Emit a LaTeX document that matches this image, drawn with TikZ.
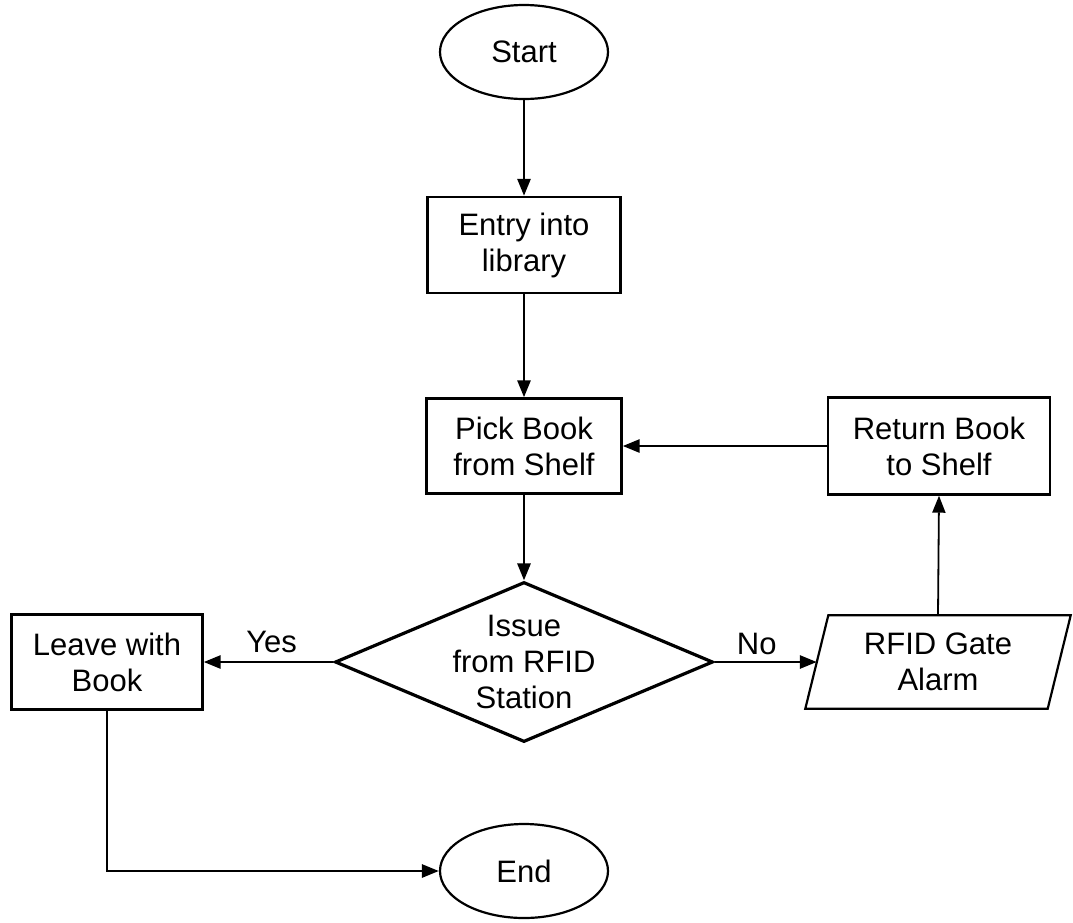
\documentclass[tikz,border=0pt]{standalone}
\usepackage{fontspec}
\setmainfont{Liberation Sans}
\usetikzlibrary{shapes.geometric,arrows.meta}
\begin{document}
\begin{tikzpicture}[x=1pt,y=-1pt,
  every node/.style={font=\fontsize{31}{36}\selectfont, align=center, inner sep=0pt},
  procbox/.style={draw, line width=2.4pt, rectangle},
  term/.style={draw, line width=2.2pt, ellipse, minimum width=168pt, minimum height=94pt},
  flow/.style={line width=2.8pt, -{Triangle[length=17pt,width=13pt]}},
  thinflow/.style={line width=1.8pt, -{Triangle[length=17pt,width=13pt]}}]
\useasboundingbox (0,0) rectangle (1073,922);
\node[term] (start) at (524,52) {Start};
\node[procbox, minimum width=193pt, minimum height=96pt] (entry) at (524,245) {Entry into\\library};
\node[procbox, minimum width=195pt, minimum height=95pt] (pick) at (524,446) {Pick Book\\from Shelf};
\node[procbox, minimum width=222pt, minimum height=97pt] (ret) at (939,446) {Return Book\\to Shelf};
\node[draw, line width=3.2pt, diamond, minimum width=378pt, minimum height=160pt] (dia) at (524,662) {};
\node (diatext) at (524,662) {Issue\\from RFID\\Station};
\node[procbox, minimum width=191pt, minimum height=95pt] (leave) at (107,662) {Leave with\\Book};
\node[minimum width=242pt, minimum height=93pt] (rfid) at (938,662) {RFID Gate\\Alarm};
\draw[line width=2.2pt] ([xshift=11.5pt]rfid.north west) -- ([xshift=11.5pt]rfid.north east)
   -- ([xshift=-11.5pt]rfid.south east) -- ([xshift=-11.5pt]rfid.south west) -- cycle;
\node[term] (end) at (524,871) {End};
\draw[flow] (start) -- (entry);
\draw[flow] (entry) -- (pick);
\draw[flow] (pick) -- (dia.north);
\draw[flow] (dia.west) -- node[anchor=base, yshift=10pt, xshift=3pt] (yes) {Yes} (leave.east);
\draw[flow] (dia.east) -- node[anchor=base, yshift=8pt, xshift=-9pt] (no) {No} (rfid.west);
\draw[thinflow] (rfid.north) -- (ret.south);
\draw[flow] (ret.west) -- (pick.east);
\draw[flow] (leave.south) |- (end.west);
\end{tikzpicture}
\end{document}
